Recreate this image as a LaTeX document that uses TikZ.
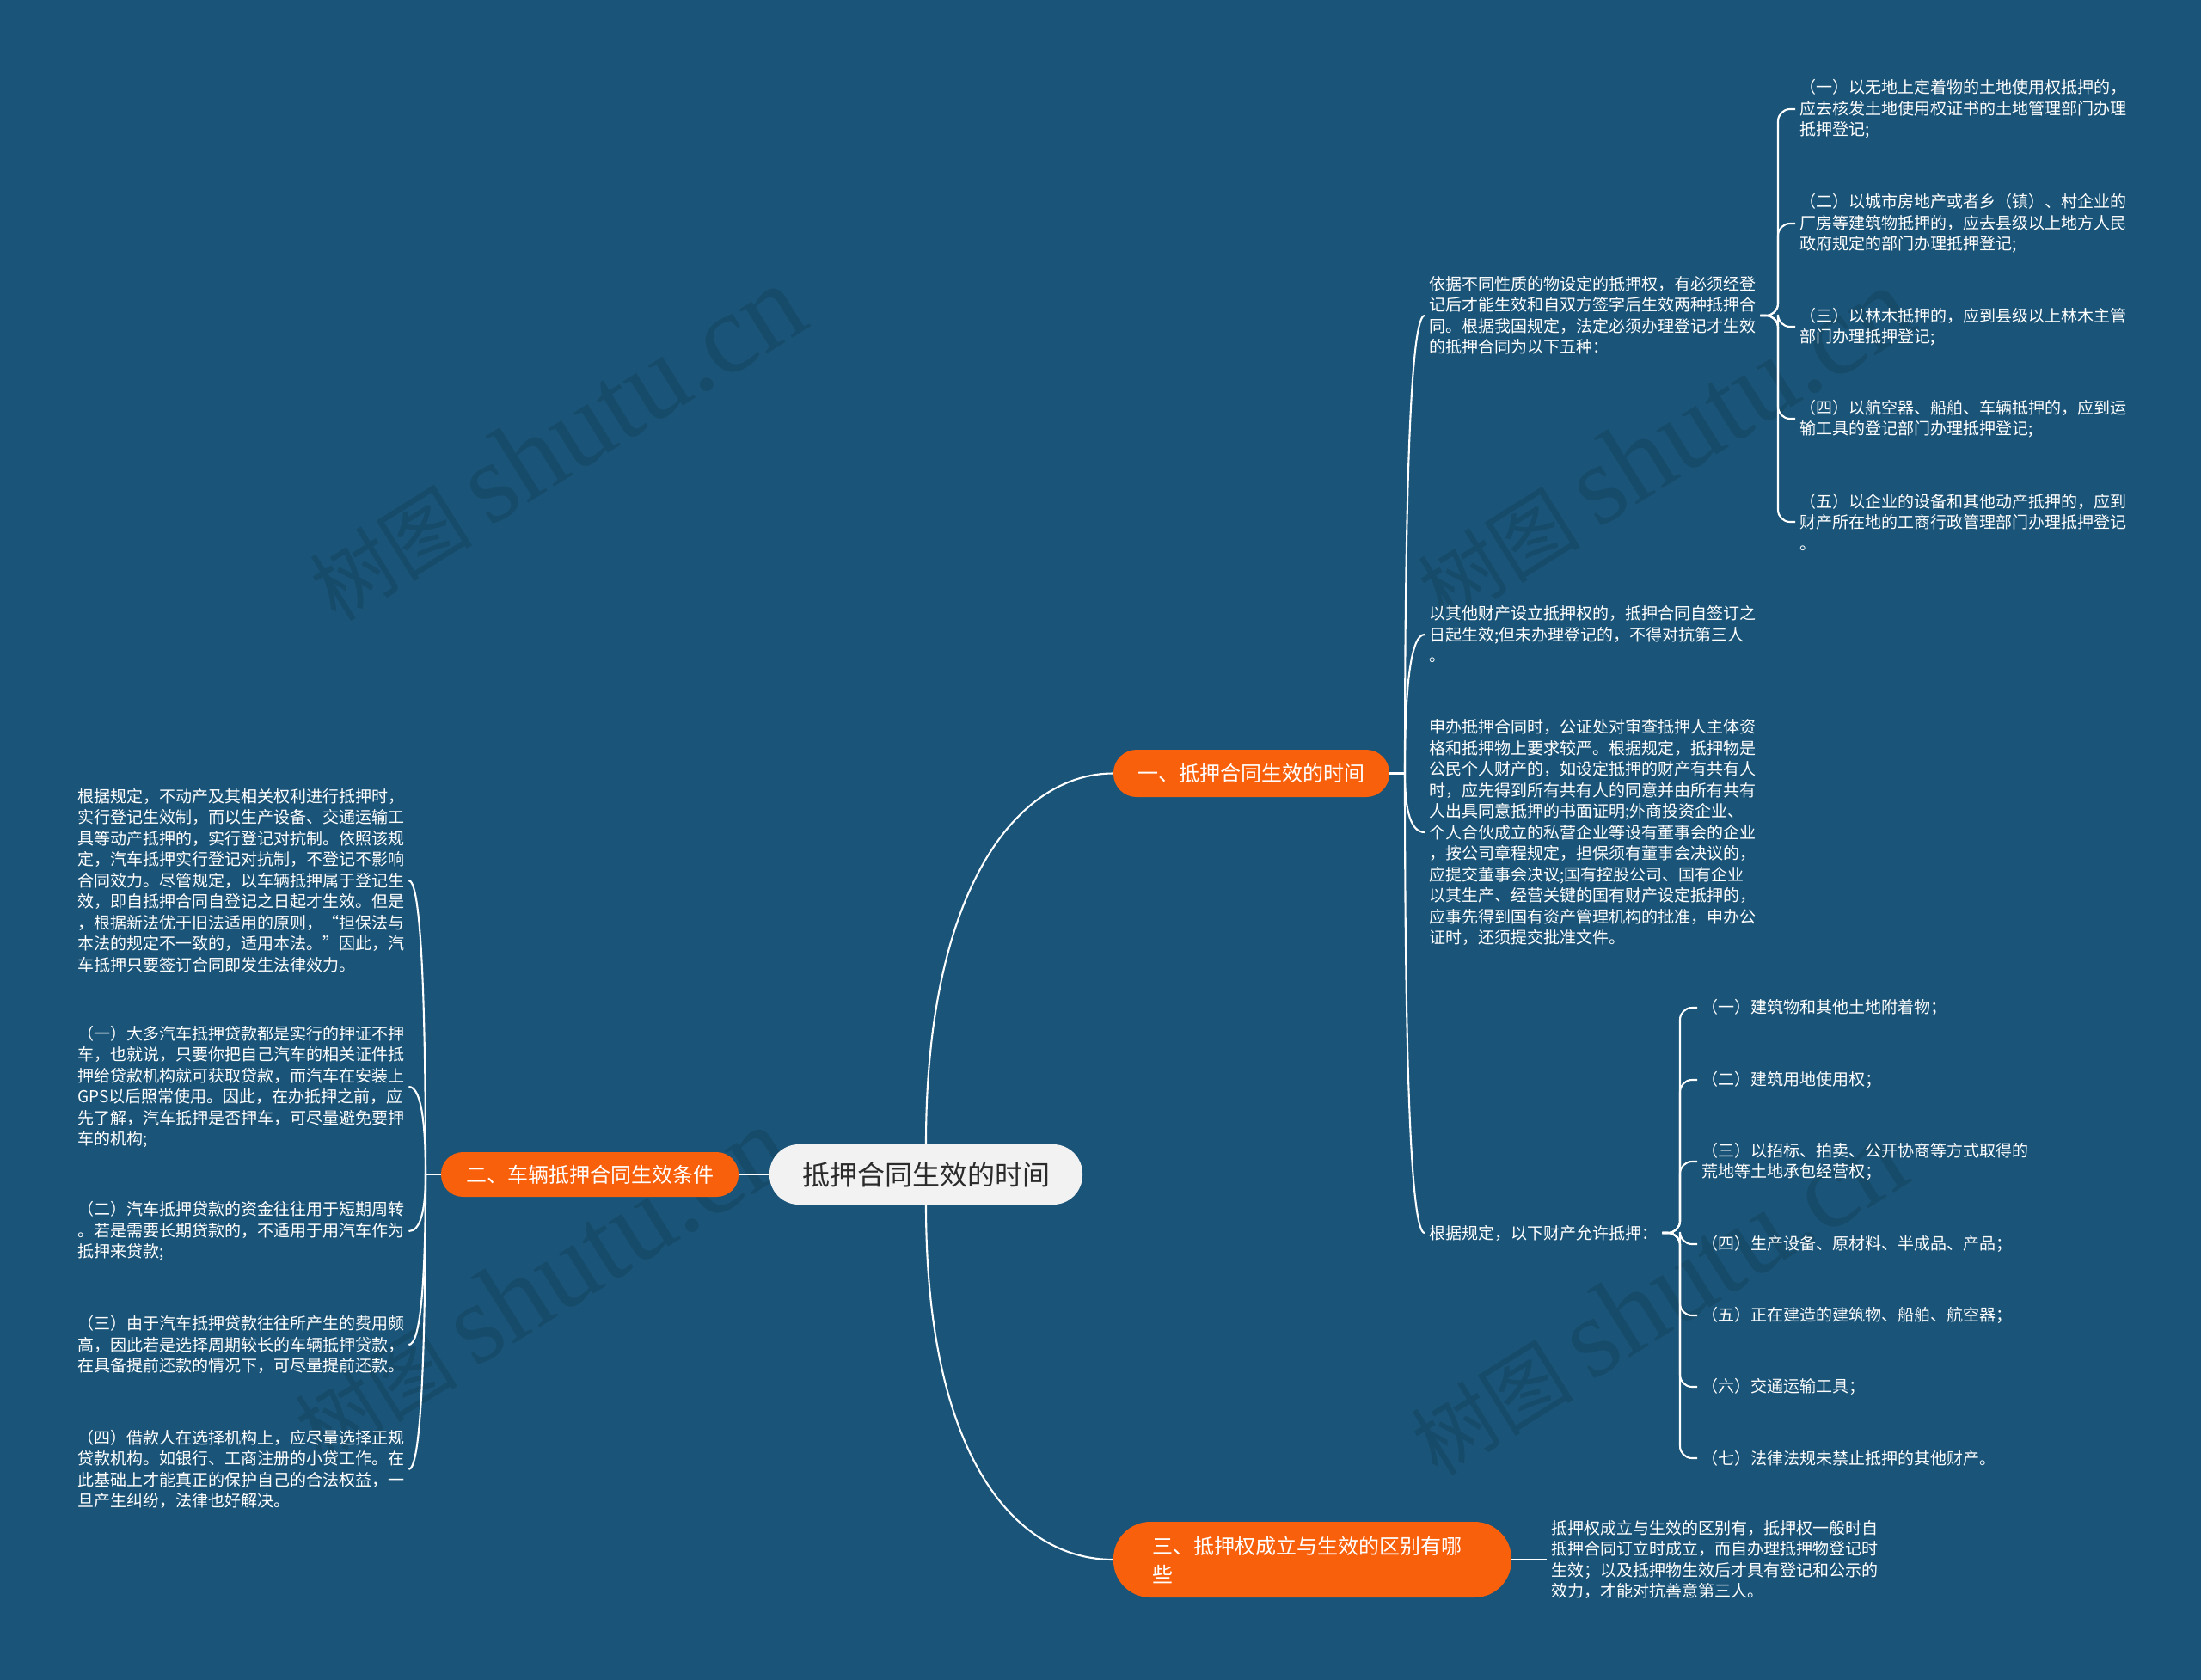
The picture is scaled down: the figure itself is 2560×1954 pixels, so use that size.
\documentclass[tikz,border=0pt]{standalone}
\usepackage{fontspec}
\setmainfont{Noto Sans CJK SC}
\newfontfamily\wmlatin{Liberation Serif}
\usetikzlibrary{calc}
\definecolor{bgblue}{HTML}{1A5478}
\definecolor{wmblue}{HTML}{174B6A}
\definecolor{branchorange}{HTML}{F8600C}
\definecolor{rootgray}{HTML}{F2F2F2}
\definecolor{roottext}{HTML}{2B2B2B}
\newcommand\qlink[2]{\draw[link] (#1) .. controls ($(#1)!0.6667!(#1 |- #2)$) and ($(#2)!0.6667!(#1 |- #2)$) .. (#2);}
\begin{document}
\begin{tikzpicture}[x=1pt,y=-1pt,
  link/.style={draw=white, line width=2.1pt},
  bracelink/.style={draw=white, line width=2.1pt, rounded corners=14pt},
  leaf/.style={text=white, font=\fontsize{19}{24.5}\selectfont, align=left, inner xsep=5pt, inner ysep=2pt, anchor=west},
  branchbox/.style={fill=branchorange, text=white, font=\fontsize{24}{33}\selectfont, inner sep=0pt},
  wm/.style={text=wmblue, inner sep=0pt, rotate=32}]

\fill[bgblue] (0,0) rectangle (2560,1954);
\useasboundingbox (0,0) rectangle (2560,1954);

% watermarks
\foreach \wx/\wy [count=\i] in {646/516, 1935/518, 629/1494, 1927/1510}{
  \node[wm] (wm\i) at (\wx,\wy) {{\fontsize{95}{95}\selectfont 树图}\hspace{20pt}{\wmlatin\fontsize{132}{132}\selectfont shutu.cn}};
}

% root and branches
\node[fill=rootgray, text=roottext, font=\fontsize{32}{38}\selectfont, minimum width=364pt, minimum height=70pt, rounded corners=34pt, inner sep=0pt] (root) at (1077,1366) {抵押合同生效的时间};

\node[branchbox, minimum width=321pt, minimum height=55pt, rounded corners=27pt] (b1) at (1455.5,899.5) {一、抵押合同生效的时间};
\node[branchbox, minimum width=346pt, minimum height=52pt, rounded corners=25.5pt] (b2) at (686,1366) {二、车辆抵押合同生效条件};
\node[branchbox, minimum width=463pt, minimum height=88pt, rounded corners=43pt, text width=373pt, align=left] (b3) at (1526.5,1814) {三、抵押权成立与生效的区别有哪\\些};

% level-1 connectors
\draw[link] (root.north) .. controls +(0,-300) and +(-110,0) .. (b1.west);
\draw[link] (root.south) .. controls +(0,300) and +(-110,0) .. (b3.west);
\draw[link] (b2.east) -- (root.west);

% branch 1 children
\node[leaf] (c1a) at (1657,367) {依据不同性质的物设定的抵押权，有必须经登\\记后才能生效和自双方签字后生效两种抵押合\\同。根据我国规定，法定必须办理登记才生效\\的抵押合同为以下五种：};
\node[leaf] (c1b) at (1657,738) {以其他财产设立抵押权的，抵押合同自签订之\\日起生效;但未办理登记的，不得对抗第三人\\。};
\node[leaf] (c1c) at (1657,968) {申办抵押合同时，公证处对审查抵押人主体资\\格和抵押物上要求较严。根据规定，抵押物是\\公民个人财产的，如设定抵押的财产有共有人\\时，应先得到所有共有人的同意并由所有共有\\人出具同意抵押的书面证明;外商投资企业、\\个人合伙成立的私营企业等设有董事会的企业\\，按公司章程规定，担保须有董事会决议的，\\应提交董事会决议;国有控股公司、国有企业\\以其生产、经营关键的国有财产设定抵押的，\\应事先得到国有资产管理机构的批准，申办公\\证时，还须提交批准文件。};
\node[leaf] (c1d) at (1657,1434) {根据规定，以下财产允许抵押：};

\coordinate (j1) at (1634,899.5);
\draw[link] (b1.east) -- (j1);
\qlink{j1}{c1a.west}
\qlink{j1}{c1b.west}
\qlink{j1}{c1c.west}
\qlink{j1}{c1d.west}

% children of c1a
\node[leaf] (a1) at (2088,127) {（一）以无地上定着物的土地使用权抵押的，\\应去核发土地使用权证书的土地管理部门办理\\抵押登记;};
\node[leaf] (a2) at (2088,260) {（二）以城市房地产或者乡（镇）、村企业的\\厂房等建筑物抵押的，应去县级以上地方人民\\政府规定的部门办理抵押登记;};
\node[leaf] (a3) at (2088,380) {（三）以林木抵押的，应到县级以上林木主管\\部门办理抵押登记;};
\node[leaf] (a4) at (2088,487) {（四）以航空器、船舶、车辆抵押的，应到运\\输工具的登记部门办理抵押登记;};
\node[leaf] (a5) at (2088,607) {（五）以企业的设备和其他动产抵押的，应到\\财产所在地的工商行政管理部门办理抵押登记\\。};

\coordinate (ja) at (2068,367);
\foreach \n in {a1,a2,a3,a4,a5}{
  \draw[bracelink] (c1a.east) -- (ja) |- (\n.west);
}

% children of c1d
\node[leaf] (d1) at (1974,1172) {（一）建筑物和其他土地附着物；};
\node[leaf] (d2) at (1974,1256) {（二）建筑用地使用权；};
\node[leaf] (d3) at (1974,1351) {（三）以招标、拍卖、公开协商等方式取得的\\荒地等土地承包经营权；};
\node[leaf] (d4) at (1974,1447) {（四）生产设备、原材料、半成品、产品；};
\node[leaf] (d5) at (1974,1530) {（五）正在建造的建筑物、船舶、航空器；};
\node[leaf] (d6) at (1974,1613) {（六）交通运输工具；};
\node[leaf] (d7) at (1974,1696) {（七）法律法规未禁止抵押的其他财产。};

\coordinate (jd) at (1954,1434);
\foreach \n in {d1,d2,d3,d4,d5,d6,d7}{
  \draw[bracelink] (c1d.east) -- (jd) |- (\n.west);
}

% branch 2 children
\node[leaf] (c2a) at (85,1024) {根据规定，不动产及其相关权利进行抵押时，\\实行登记生效制，而以生产设备、交通运输工\\具等动产抵押的，实行登记对抗制。依照该规\\定，汽车抵押实行登记对抗制，不登记不影响\\合同效力。尽管规定，以车辆抵押属于登记生\\效，即自抵押合同自登记之日起才生效。但是\\，根据新法优于旧法适用的原则，“担保法与\\本法的规定不一致的，适用本法。”因此，汽\\车抵押只要签订合同即发生法律效力。};
\node[leaf] (c2b) at (85,1264) {（一）大多汽车抵押贷款都是实行的押证不押\\车，也就说，只要你把自己汽车的相关证件抵\\押给贷款机构就可获取贷款，而汽车在安装上\\GPS以后照常使用。因此，在办抵押之前，应\\先了解，汽车抵押是否押车，可尽量避免要押\\车的机构;};
\node[leaf] (c2c) at (85,1432) {（二）汽车抵押贷款的资金往往用于短期周转\\。若是需要长期贷款的，不适用于用汽车作为\\抵押来贷款;};
\node[leaf] (c2d) at (85,1564) {（三）由于汽车抵押贷款往往所产生的费用颇\\高，因此若是选择周期较长的车辆抵押贷款，\\在具备提前还款的情况下，可尽量提前还款。};
\node[leaf] (c2e) at (85,1709) {（四）借款人在选择机构上，应尽量选择正规\\贷款机构。如银行、工商注册的小贷工作。在\\此基础上才能真正的保护自己的合法权益，一\\旦产生纠纷，法律也好解决。};

\coordinate (j2) at (495,1366);
\draw[link] (b2.west) -- (j2);
\qlink{j2}{c2a.east}
\qlink{j2}{c2b.east}
\qlink{j2}{c2c.east}
\qlink{j2}{c2d.east}
\qlink{j2}{c2e.east}

% branch 3 child
\node[leaf] (c3) at (1799,1814) {抵押权成立与生效的区别有，抵押权一般时自\\抵押合同订立时成立，而自办理抵押物登记时\\生效；以及抵押物生效后才具有登记和公示的\\效力，才能对抗善意第三人。};
\draw[link] (b3.east) -- (c3.west);

\end{tikzpicture}
\end{document}
